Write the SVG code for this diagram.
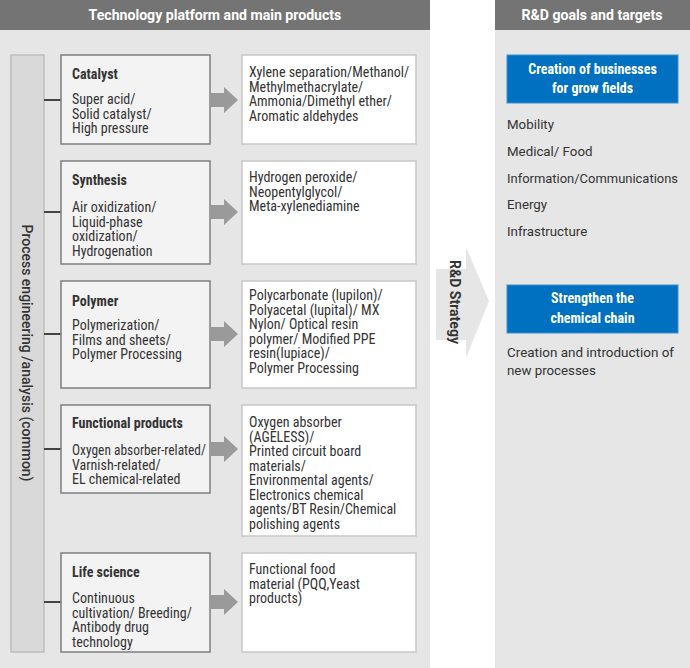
<svg xmlns="http://www.w3.org/2000/svg" width="690" height="668" viewBox="0 0 690 668">
<style>
.panel{fill:#e6e6e6}
.hdr{fill:#747474}
.hdrt{font-family:Roboto,"Liberation Sans",sans-serif;font-weight:bold;font-size:14.1px;fill:#fff;text-anchor:middle}
.tech{fill:#f3f3f3;stroke:#7f7f7f;stroke-width:1.5}
.prod{fill:#fff;stroke:#c8c8c8;stroke-width:1.5}
.c{font-family:"Roboto Condensed","Liberation Sans Narrow",Roboto,sans-serif;font-size:14px;fill:#333}
.cb{font-family:"Roboto Condensed","Liberation Sans Narrow",Roboto,sans-serif;font-size:14px;font-weight:bold;fill:#333}
.r{font-family:Roboto,"Liberation Sans",sans-serif;font-size:13.3px;fill:#333}
.blue{fill:#0070c0;stroke:#3d8fd0;stroke-width:1}
.bt{font-family:"Roboto Condensed","Liberation Sans Narrow",Roboto,sans-serif;font-size:14px;font-weight:bold;fill:#fff;text-anchor:middle}
.link{stroke:#444;stroke-width:2;fill:none}
.arr{fill:#9a9a9a}
</style>
<defs>
<path id="blk" d="M0,-7 H13 V-13 L27,0 L13,13 V7 H0 Z"/>
</defs>
<rect width="690" height="668" fill="#fff"/>
<!-- left panel -->
<rect class="panel" x="0" y="0" width="430" height="668"/>
<rect class="hdr" x="0" y="0" width="430" height="30"/>
<text class="hdrt" x="215" y="20">Technology platform and main products</text>
<!-- right panel -->
<rect class="panel" x="495" y="0" width="195" height="668"/>
<rect class="hdr" x="495" y="0" width="195" height="30"/>
<text class="hdrt" x="592" y="20">R&amp;D goals and targets</text>

<g id="common">
<rect x="11" y="55" width="33" height="597" fill="#d9d9d9" stroke="#bdbdbd" stroke-width="1.5"/>
<text transform="translate(22,353) rotate(90)" text-anchor="middle" style="font-family:Roboto,'Liberation Sans',sans-serif;font-size:14px;font-weight:500;fill:#333">Process engineering /analysis (common)</text>
</g>

<g id="connectors">
<path class="link" d="M44,100H61 M44,212H61 M44,334H61 M44,449H61 M44,602H61"/>
<use href="#blk" class="arr" x="211" y="100"/>
<use href="#blk" class="arr" x="211" y="212"/>
<use href="#blk" class="arr" x="211" y="334"/>
<use href="#blk" class="arr" x="211" y="449"/>
<use href="#blk" class="arr" x="211" y="602"/>
</g>

<g id="catalyst">
<rect class="tech" x="61" y="55" width="149" height="89"/>
<text class="cb" x="72" y="79">Catalyst</text>
<text class="c" x="72" y="104">Super acid/</text>
<text class="c" x="72" y="118.5">Solid catalyst/</text>
<text class="c" x="72" y="133">High pressure</text>
</g>
<g id="catalyst-products">
<rect class="prod" x="242" y="55" width="174" height="89"/>
<text class="c" x="249" y="77">Xylene separation/Methanol/</text>
<text class="c" x="249" y="91.5">Methylmethacrylate/</text>
<text class="c" x="249" y="106">Ammonia/Dimethyl ether/</text>
<text class="c" x="249" y="120.5">Aromatic aldehydes</text>
</g>

<g id="synthesis">
<rect class="tech" x="61" y="161" width="149" height="103"/>
<text class="cb" x="72" y="185">Synthesis</text>
<text class="c" x="72" y="212">Air oxidization/</text>
<text class="c" x="72" y="226.5">Liquid-phase</text>
<text class="c" x="72" y="241">oxidization/</text>
<text class="c" x="72" y="255.5">Hydrogenation</text>
</g>
<g id="synthesis-products">
<rect class="prod" x="242" y="161" width="174" height="103"/>
<text class="c" x="249" y="182">Hydrogen peroxide/</text>
<text class="c" x="249" y="196.5">Neopentylglycol/</text>
<text class="c" x="249" y="211">Meta-xylenediamine</text>
</g>

<g id="polymer">
<rect class="tech" x="61" y="281" width="149" height="107"/>
<text class="cb" x="72" y="306">Polymer</text>
<text class="c" x="72" y="330">Polymerization/</text>
<text class="c" x="72" y="344.5">Films and sheets/</text>
<text class="c" x="72" y="359">Polymer Processing</text>
</g>
<g id="polymer-products">
<rect class="prod" x="242" y="281" width="174" height="107"/>
<text class="c" x="249" y="300">Polycarbonate (lupilon)/</text>
<text class="c" x="249" y="314.5">Polyacetal (lupital)/ MX</text>
<text class="c" x="249" y="329">Nylon/ Optical resin</text>
<text class="c" x="249" y="343.5">polymer/ Modified PPE</text>
<text class="c" x="249" y="358">resin(lupiace)/</text>
<text class="c" x="249" y="372.5">Polymer Processing</text>
</g>

<g id="functional">
<rect class="tech" x="61" y="405" width="149" height="88"/>
<text class="cb" x="72" y="428">Functional products</text>
<text class="c" x="72" y="455" textLength="134" lengthAdjust="spacingAndGlyphs">Oxygen absorber-related/</text>
<text class="c" x="72" y="469.5">Varnish-related/</text>
<text class="c" x="72" y="484">EL chemical-related</text>
</g>
<g id="functional-products">
<rect class="prod" x="242" y="405" width="174" height="131"/>
<text class="c" x="249" y="427">Oxygen absorber</text>
<text class="c" x="249" y="441.5">(AGELESS)/</text>
<text class="c" x="249" y="456">Printed circuit board</text>
<text class="c" x="249" y="470.5">materials/</text>
<text class="c" x="249" y="485">Environmental agents/</text>
<text class="c" x="249" y="499.5">Electronics chemical</text>
<text class="c" x="249" y="514">agents/BT Resin/Chemical</text>
<text class="c" x="249" y="528.5">polishing agents</text>
</g>

<g id="life-science">
<rect class="tech" x="61" y="553" width="149" height="99"/>
<text class="cb" x="72" y="577">Life science</text>
<text class="c" x="72" y="603">Continuous</text>
<text class="c" x="72" y="617.5">cultivation/ Breeding/</text>
<text class="c" x="72" y="632">Antibody drug</text>
<text class="c" x="72" y="646.5">technology</text>
</g>
<g id="life-science-products">
<rect class="prod" x="242" y="553" width="174" height="99"/>
<text class="c" x="249" y="574">Functional food</text>
<text class="c" x="249" y="588.5">material (PQQ,Yeast</text>
<text class="c" x="249" y="603">products)</text>
</g>

<g id="rd-strategy">
<path d="M436,269 H466 V247 L489,301 L466,358 V340 H436 Z" fill="#e6e6e6"/>
<text transform="translate(450,302) rotate(90)" text-anchor="middle" style="font-family:Roboto,'Liberation Sans',sans-serif;font-size:14px;font-weight:bold;fill:#333">R&amp;D Strategy</text>
</g>

<g id="growth-fields">
<rect class="blue" x="507" y="55" width="171" height="48"/>
<text class="bt" x="592.5" y="74">Creation of businesses</text>
<text class="bt" x="592.5" y="93">for grow fields</text>
<text class="r" x="507" y="129">Mobility</text>
<text class="r" x="507" y="156">Medical/ Food</text>
<text class="r" x="507" y="183" textLength="171" lengthAdjust="spacingAndGlyphs">Information/Communications</text>
<text class="r" x="507" y="209">Energy</text>
<text class="r" x="507" y="236">Infrastructure</text>
</g>

<g id="chemical-chain">
<rect class="blue" x="507" y="285" width="171" height="48"/>
<text class="bt" x="592.5" y="303">Strengthen the</text>
<text class="bt" x="592.5" y="323">chemical chain</text>
<text class="r" x="507" y="357" textLength="167" lengthAdjust="spacingAndGlyphs">Creation and introduction of</text>
<text class="r" x="507" y="375">new processes</text>
</g>
</svg>
